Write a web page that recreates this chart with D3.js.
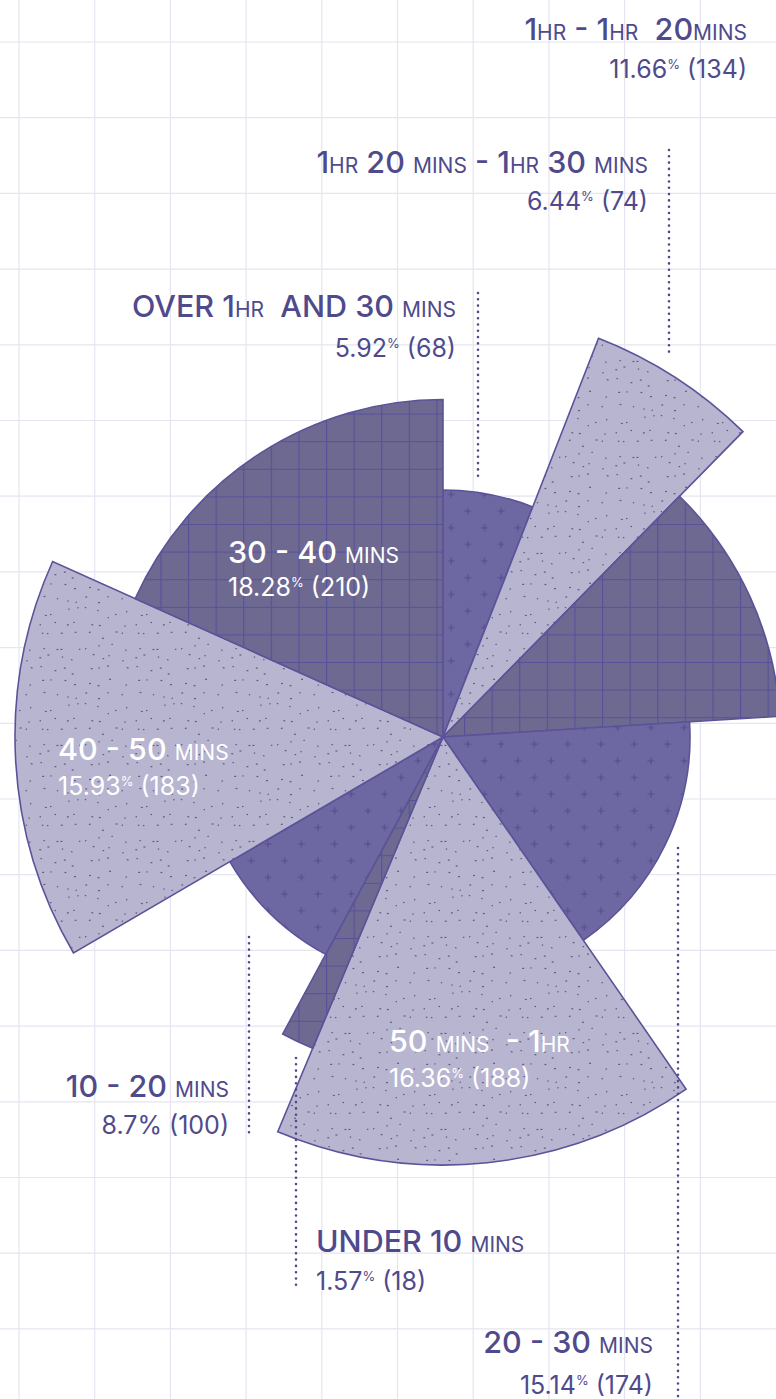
<!DOCTYPE html>
<html><head><meta charset="utf-8">
<script src="https://cdn.jsdelivr.net/npm/d3@7/dist/d3.min.js"></script>
<style>
html,body{margin:0;padding:0;background:#fff;overflow:hidden;}
svg{display:block;}
text{font-family:"Inter","Noto Sans",sans-serif;white-space:pre;}
</style></head>
<body>
<svg id="chart" width="776" height="1399"></svg>
<script>
// ---- data ----
const categories = ["OVER 1HR AND 30 MINS","1HR 20 MINS - 1HR 30 MINS","1HR - 1HR 20MINS","20 - 30 MINS","50 MINS - 1HR","UNDER 10 MINS","10 - 20 MINS","40 - 50 MINS","30 - 40 MINS"];
const counts = [68, 74, 134, 174, 188, 18, 100, 183, 210];
const percents = ["5.92","6.44","11.66","15.14","16.36","1.57","8.7","15.93","18.28"];
// angular share of each wedge as it is drawn in the picture, clockwise from 12 o'clock
const wedgeCounts = [68, 74, 134, 188, 183, 18, 100, 174, 210];
const tiers = [1, 3, 2, 1, 3, 2, 1, 3, 2];           // radius level of each wedge
const supPercent = [true,true,true,true,true,true,false,true,true];
// label text split into big (0) and small-caps (1) runs
const labelParts = [
  [["OVER 1",0],["HR",1],["  AND 30 ",0],["MINS",1]],
  [["1",0],["HR",1],[" 20 ",0],["MINS",1],[" - 1",0],["HR",1],[" 30 ",0],["MINS",1]],
  [["1",0],["HR",1],[" - 1",0],["HR",1],["  20",0],["MINS",1]],
  [["20 - 30 ",0],["MINS",1]],
  [["50 ",0],["MINS",1],["  - 1",0],["HR",1]],
  [["UNDER 10 ",0],["MINS",1]],
  [["10 - 20 ",0],["MINS",1]],
  [["40 - 50 ",0],["MINS",1]],
  [["30 - 40 ",0],["MINS",1]]
];

// ---- layout ----
const W = 776, H = 1399;
const cx = 443, cy = 737;
const labelLayout = [
  {x:456, y:317, sy:357, anchor:"end", inside:false, leader:{x:478, y1:293, y2:478}},
  {x:648, y:173, sy:210, anchor:"end", inside:false, leader:{x:669, y1:150, y2:355}},
  {x:747, y:40,  sy:78,  anchor:"end", inside:false, leader:null},
  {x:653, y:1353,sy:1394,anchor:"end", inside:false, leader:{x:678, y1:848, y2:1402}},
  {x:389, y:1052,sy:1087,anchor:"start", inside:true, leader:null},
  {x:316, y:1252,sy:1290,anchor:"start", inside:false, leader:{x:296, y1:1058, y2:1290}},
  {x:229, y:1097,sy:1134,anchor:"end", inside:false, leader:{x:249, y1:937, y2:1138}},
  {x:58,  y:760, sy:795, anchor:"start", inside:true, leader:null},
  {x:228, y:563, sy:596, anchor:"start", inside:true, leader:null}
];
const BIG = 30.5, SMALL = 21, SUB = 25, SUP = 13;
const textColor = "#4f4a8c";
const strokeColor = "#5b5399";

const svg = d3.select("#chart");
const defs = svg.append("defs");

// patterns
const pPlus = defs.append("pattern").attr("id","plus").attr("patternUnits","userSpaceOnUse")
  .attr("width",33.3).attr("height",33.3).attr("x",457.7).attr("y",506.7);
pPlus.append("rect").attr("width",33.3).attr("height",33.3).attr("fill","#6d68a1");
[[0,0],[33.3,0],[0,33.3],[33.3,33.3],[16.65,16.65]].forEach(([px,py])=>{
  pPlus.append("path").attr("d",`M${px-3.5},${py}H${px+3.5}M${px},${py-3.5}V${py+3.5}`)
    .attr("stroke","#524b8d").attr("stroke-width",1.1).attr("fill","none");
});

const cs = 27.6;
const pChk = defs.append("pattern").attr("id","check").attr("patternUnits","userSpaceOnUse")
  .attr("width",cs).attr("height",cs).attr("x",21).attr("y",7.8);
pChk.append("rect").attr("width",cs).attr("height",cs).attr("fill","#6e6990");
pChk.append("path").attr("d",`M0.5,0V${cs}M0,0.5H${cs}`).attr("stroke","#57509a").attr("stroke-width",1.2).attr("fill","none");

// speckle texture: one speck per 12px cell, at a hashed spot inside the cell (decorative only)
const cell = 12, nCell = 8, ds = cell*nCell;
const pDot = defs.append("pattern").attr("id","dots").attr("patternUnits","userSpaceOnUse")
  .attr("width",ds).attr("height",ds);
pDot.append("rect").attr("width",ds).attr("height",ds).attr("fill","#b8b5d1");
function hash(n){
  n = (n ^ 61) ^ (n >>> 16); n = Math.imul(n, 9); n = n ^ (n >>> 4);
  n = Math.imul(n, 0x27d4eb2d); n = n ^ (n >>> 15);
  return (n >>> 0) / 4294967296;
}
for(let r=0;r<nCell;r++) for(let c=0;c<nCell;c++){
  const k = r*nCell + c;
  const x = c*cell + hash(k*3+1)*(cell-2);
  const y = r*cell + hash(k*3+2)*(cell-2);
  pDot.append("rect").attr("x",x.toFixed(1)).attr("y",y.toFixed(1))
    .attr("width",hash(k*3+3) > 0.5 ? 1.9 : 1.4).attr("height",1.2)
    .attr("fill","#4c4966").attr("opacity",0.85);
}

// background grid
const gs = 75.7;
const grid = svg.append("g");
for(let x=19; x<W; x+=gs) grid.append("line").attr("x1",x).attr("x2",x).attr("y1",0).attr("y2",H)
  .attr("stroke","#e6e4f1").attr("stroke-width",1.2);
for(let y=42; y<H; y+=gs) grid.append("line").attr("y1",y).attr("y2",y).attr("x1",0).attr("x2",W)
  .attr("stroke","#e6e4f1").attr("stroke-width",1.2);

// wedges
const rScale = d3.scaleLinear().domain([1,3]).range([247,428]);
const fills = {1:"url(#plus)", 2:"url(#check)", 3:"url(#dots)"};
const pie = d3.pie().sort(null).value(d=>d).startAngle(0).endAngle(2*Math.PI);
const arcsData = pie(wedgeCounts);
const arc = d3.arc().innerRadius(0);

const g = svg.append("g").attr("transform",`translate(${cx},${cy})`);
g.selectAll("path.w").data(arcsData).join("path").attr("class","w")
  .attr("d",(d,i)=>arc.outerRadius(rScale(tiers[i]))(d))
  .attr("fill",(d,i)=>fills[tiers[i]])
  .attr("stroke",strokeColor).attr("stroke-width",1.6).attr("stroke-linejoin","miter");

// leaders
labelLayout.forEach(l=>{
  if(!l.leader) return;
  svg.append("line").attr("x1",l.leader.x).attr("x2",l.leader.x).attr("y1",l.leader.y1).attr("y2",l.leader.y2)
    .attr("stroke",textColor).attr("stroke-width",2.6).attr("stroke-linecap","round").attr("stroke-dasharray","0 6.3");
});

// labels
categories.forEach((c,i)=>{
  const L = labelLayout[i];
  const col = L.inside ? "#ffffff" : textColor;
  const t = svg.append("text").attr("x",L.x).attr("y",L.y).attr("text-anchor",L.anchor).attr("fill",col);
  labelParts[i].forEach(([s,small])=>{
    t.append("tspan").attr("font-size",small?SMALL:BIG).attr("font-weight",small?400:500).text(s);
  });
  const s = svg.append("text").attr("x",L.x).attr("y",L.sy).attr("text-anchor",L.anchor).attr("fill",col)
    .attr("font-size",SUB);
  s.append("tspan").text(percents[i]);
  if(supPercent[i]){
    s.append("tspan").attr("font-size",SUP).attr("dy",-9).text("%");
    s.append("tspan").attr("dy",9).text(" (" + counts[i] + ")");
  } else {
    s.append("tspan").text("% (" + counts[i] + ")");
  }
});
</script>
</body></html>
